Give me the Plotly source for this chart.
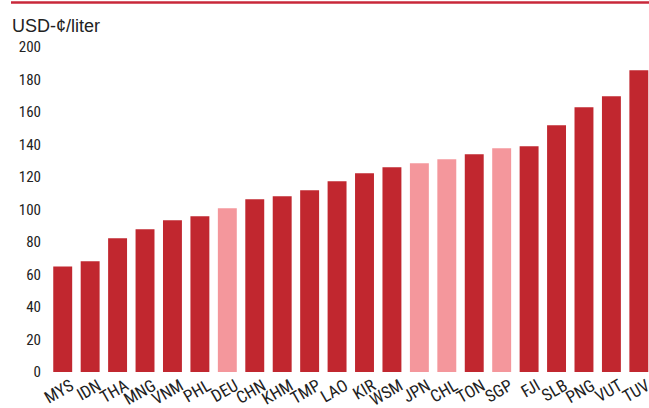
import plotly.graph_objects as go

countries = ["MYS", "IDN", "THA", "MNG", "VNM", "PHL", "DEU", "CHN", "KHM", "TMP", "LAO",
             "KIR", "WSM", "JPN", "CHL", "TON", "SGP", "FJI", "SLB", "PNG", "VUT", "TUV"]
prices = [65.0, 68.1, 82.3, 87.8, 93.4, 95.8, 100.7, 106.3, 108.1, 111.8, 117.4,
          122.3, 126.0, 128.4, 130.9, 134.0, 137.7, 138.9, 151.8, 162.9, 169.7, 185.7]
highlight = ["DEU", "JPN", "CHL", "SGP"]

DARK = "#c1272f"
PINK = "#f4979c"
colors = [PINK if c in highlight else DARK for c in countries]

W, H = 649, 408
L, R = 49, 0
T, B = 46.7, 36.3
pw = W - L - R
ph = H - T - B

def px_x(x):
    return (x - L) / pw

def px_y(y):
    return (H - B - y) / ph

fig = go.Figure(go.Bar(x=countries, y=prices, marker=dict(color=colors, line=dict(width=0)),
                       width=0.69))

font_narrow = "Roboto Condensed, Archivo Narrow, DejaVu Sans Condensed, sans-serif"

fig.update_layout(
    width=W, height=H,
    margin=dict(l=L, r=R, t=T, b=B, pad=0),
    plot_bgcolor="white", paper_bgcolor="white",
    showlegend=False,
    font=dict(family=font_narrow, size=15, color="#222222"),
    xaxis=dict(range=[-0.5, 21.37], showgrid=False, zeroline=False, showline=False,
               ticks="", tickangle=-30, automargin=False, ticklabelshift=8,
               tickfont=dict(family=font_narrow, size=17, color="#222222")),
    yaxis=dict(range=[0, 200], dtick=20, showgrid=False, zeroline=False, showline=False,
               ticks="", ticklabelstandoff=7, automargin=False,
               tickfont=dict(family=font_narrow, size=15, color="#222222")),
    shapes=[dict(type="line", xref="paper", yref="paper",
                 x0=px_x(11), x1=px_x(649), y0=px_y(2.2), y1=px_y(2.2),
                 line=dict(color="#c8283a", width=2.5))],
    annotations=[dict(text="USD-¢/liter", xref="paper", yref="paper",
                      x=px_x(10), y=px_y(26), xanchor="left", yanchor="middle",
                      showarrow=False,
                      font=dict(family="Liberation Sans, Arial, sans-serif", size=18, color="#222222"))],
)

fig.write_html("out.html", config={"displayModeBar": False},
               post_script="document.body.style.margin='0';document.body.style.overflow='hidden';")
